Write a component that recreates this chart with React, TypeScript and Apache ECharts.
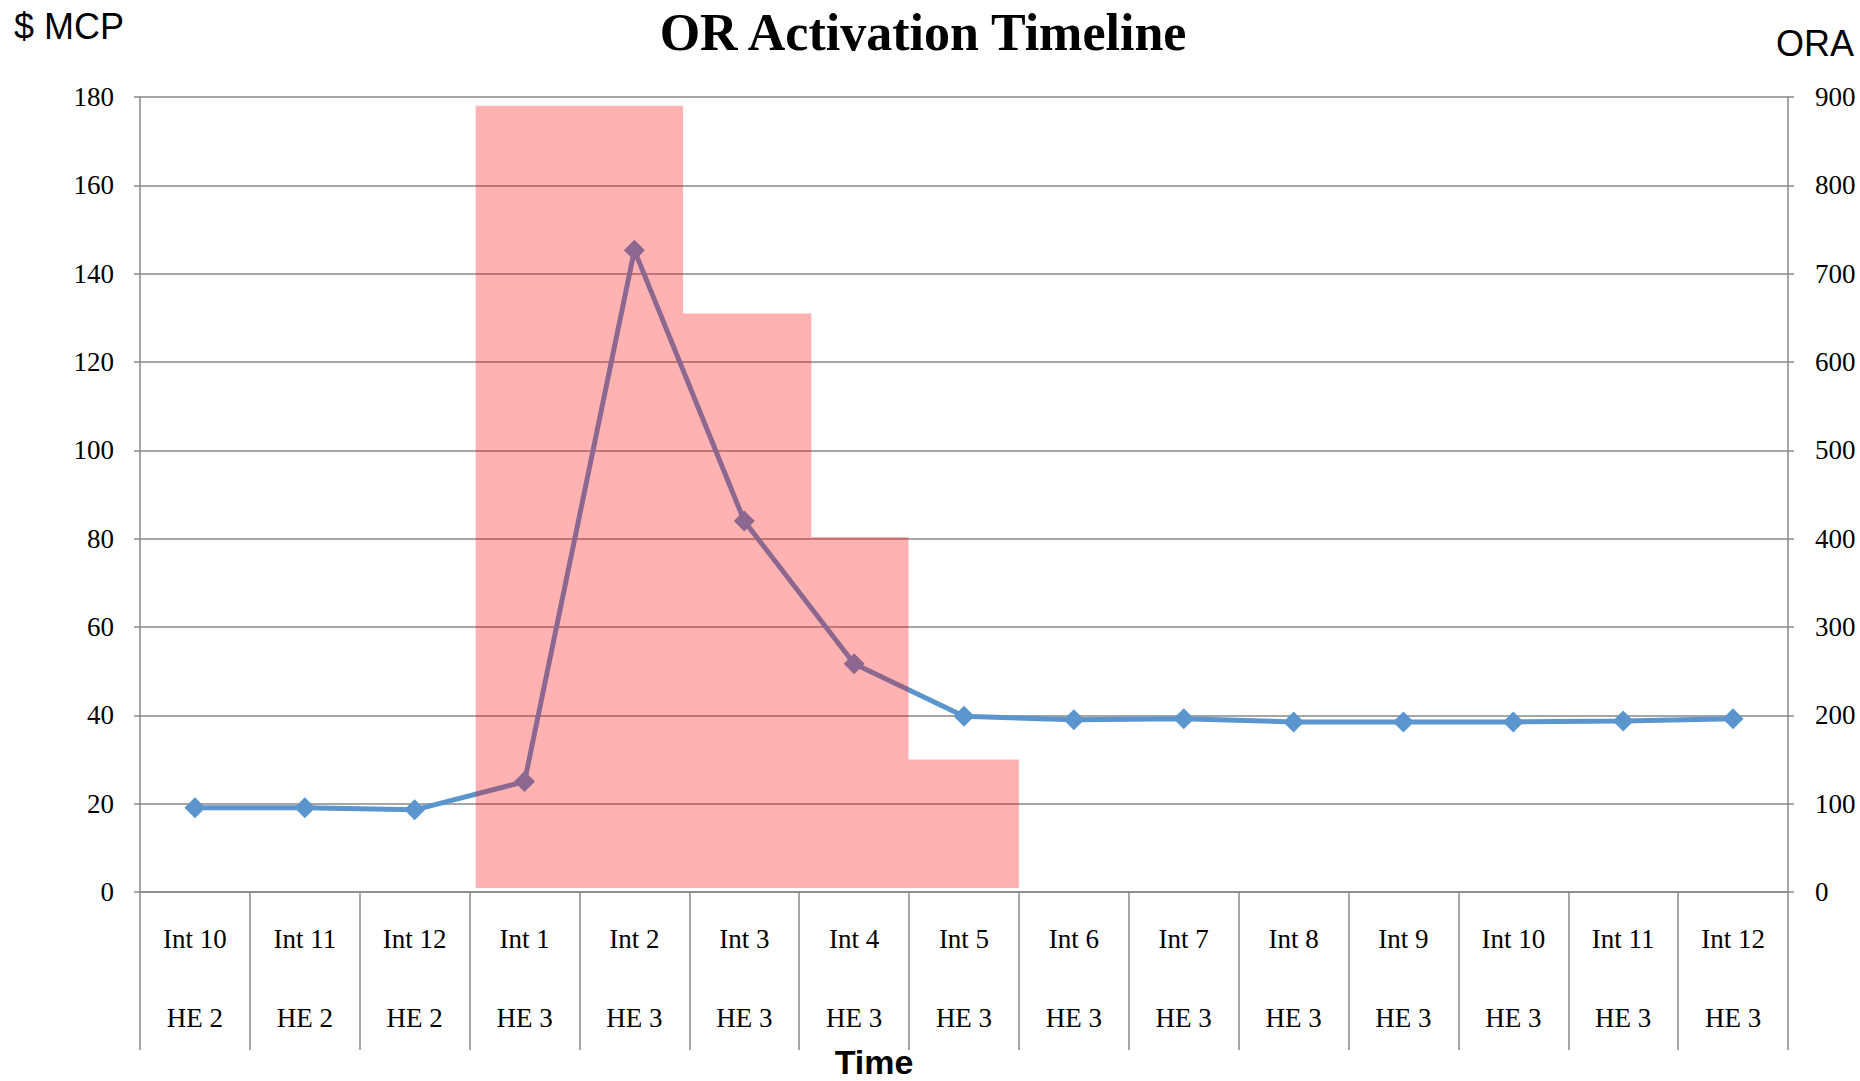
import React, { useEffect, useRef } from "react";
import * as echarts from "echarts";

const intervals = ["Int 10", "Int 11", "Int 12", "Int 1", "Int 2", "Int 3", "Int 4", "Int 5", "Int 6", "Int 7", "Int 8", "Int 9", "Int 10", "Int 11", "Int 12"];
const hours = ["HE 2", "HE 2", "HE 2", "HE 3", "HE 3", "HE 3", "HE 3", "HE 3", "HE 3", "HE 3", "HE 3", "HE 3", "HE 3", "HE 3", "HE 3"];
const mcpValues = [19.1, 19.1, 18.6, 25, 145.3, 84, 51.7, 39.8, 39, 39.2, 38.5, 38.5, 38.5, 38.7, 39.2];
// ORA activation steps: position along the time axis (in interval units) and MW level
const oraStepX = [3.055, 4.943, 6.11, 6.995, 8.0];
const oraValues = [890, 655, 402, 150, 150];
const oraBase = 4.5;
const mcpTicks = { min: 0, max: 180, interval: 20 };
const oraTicks = { min: 0, max: 900, interval: 100 };

const GRID = "#888888";
const SERIF = "'Liberation Serif', 'Times New Roman', serif";
const SANS = "'Liberation Sans', Arial, sans-serif";

export default function App() {
  const ref = useRef<HTMLDivElement>(null);
  useEffect(() => {
    if (!ref.current) return;
    const chart = echarts.init(ref.current, null, { renderer: "svg" });
    const categories = intervals.map((v, i) => `${v}\n${hours[i]}`);
    chart.setOption({
      animation: false,
      backgroundColor: "#ffffff",
      grid: { left: 140, right: 72, top: 97, bottom: 189, containLabel: false },
      xAxis: [
        {
          type: "category",
          data: categories,
          boundaryGap: true,
          axisLine: { show: true, lineStyle: { color: GRID, width: 1.5 } },
          axisTick: { show: true, interval: 0, length: 158, lineStyle: { color: GRID, width: 1.5 } },
          axisLabel: {
            interval: 0,
            margin: 7.5,
            lineHeight: 79,
            fontFamily: SERIF,
            fontSize: 27,
            color: "#000",
          },
          splitLine: { show: false },
        },
        {
          type: "value",
          min: 0,
          max: 15,
          show: false,
          splitLine: { show: false },
        },
      ],
      yAxis: [
        {
          type: "value",
          position: "left",
          ...mcpTicks,
          axisLine: { show: true, lineStyle: { color: GRID, width: 1.5 } },
          axisTick: { show: true, length: 6, lineStyle: { color: GRID, width: 1.5 } },
          axisLabel: { margin: 26, fontFamily: SERIF, fontSize: 27, color: "#000" },
          splitLine: { show: true, lineStyle: { color: GRID, width: 1.5 } },
        },
        {
          type: "value",
          position: "right",
          ...oraTicks,
          axisLine: { show: true, lineStyle: { color: GRID, width: 1.5 } },
          axisTick: { show: true, length: 6, lineStyle: { color: GRID, width: 1.5 } },
          axisLabel: { margin: 27, fontFamily: SERIF, fontSize: 27, color: "#000" },
          splitLine: { show: false },
        },
      ],
      series: [
        {
          name: "$ MCP",
          type: "line",
          xAxisIndex: 0,
          yAxisIndex: 0,
          data: mcpValues,
          symbol: "diamond",
          symbolSize: 21,
          lineStyle: { color: "#5B95CE", width: 5 },
          itemStyle: { color: "#5B95CE" },
          z: 2,
        },
        {
          name: "ORA",
          type: "line",
          xAxisIndex: 1,
          yAxisIndex: 1,
          step: "end",
          data: oraStepX.map((x, i) => [x, oraValues[i]]),
          symbol: "none",
          lineStyle: { width: 0, opacity: 0 },
          areaStyle: { color: "rgba(255,0,0,0.3)", origin: oraBase, opacity: 1 },
          z: 5,
        },
      ],
      graphic: [
        {
          type: "text",
          x: 923,
          y: 32,
          style: {
            text: "OR Activation Timeline",
            font: `bold 52px ${SERIF}`,
            fill: "#000",
            align: "center",
            verticalAlign: "middle",
          },
        },
        {
          type: "text",
          x: 14,
          y: 26,
          style: { text: "$ MCP", font: `36px ${SANS}`, fill: "#000", align: "left", verticalAlign: "middle" },
        },
        {
          type: "text",
          x: 1776,
          y: 43,
          style: { text: "ORA", font: `36px ${SANS}`, fill: "#000", align: "left", verticalAlign: "middle" },
        },
        {
          type: "text",
          x: 874,
          y: 1062,
          style: { text: "Time", font: `bold 34px ${SANS}`, fill: "#000", align: "center", verticalAlign: "middle" },
        },
      ],
    });
    return () => chart.dispose();
  }, []);
  return (
    <div
      ref={ref}
      style={{ position: "fixed", left: 0, top: 0, width: 1860, height: 1081, background: "#fff" }}
    />
  );
}
